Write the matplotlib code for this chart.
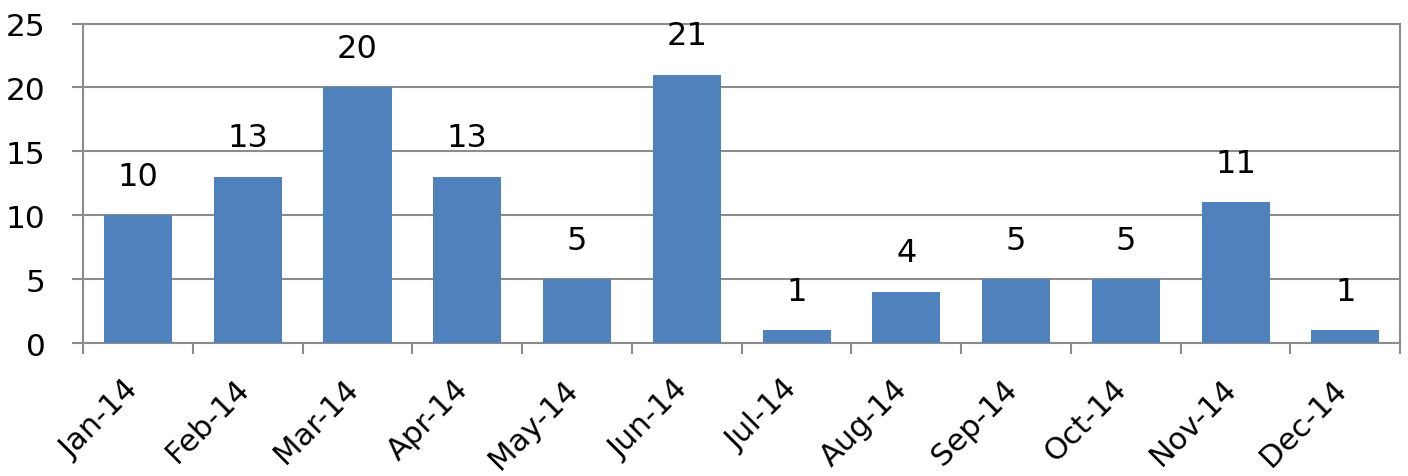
import matplotlib.pyplot as plt
from matplotlib.transforms import ScaledTranslation

months = ["Jan-14", "Feb-14", "Mar-14", "Apr-14", "May-14", "Jun-14",
          "Jul-14", "Aug-14", "Sep-14", "Oct-14", "Nov-14", "Dec-14"]
counts = [10, 13, 20, 13, 5, 21, 1, 4, 5, 5, 11, 1]

grey = "#8c8c8c"
blue = "#4f81bd"

fig = plt.figure(figsize=(14.08, 4.77), dpi=100)
ax = fig.add_axes([0.059, 0.2788, 0.9355, 0.6698])

x = list(range(len(months)))
bars = ax.bar(x, counts, width=0.62, color=blue, zorder=3)

for xi, v in zip(x, counts):
    ax.annotate(str(v), (xi, v), xytext=(0, 17), textcoords="offset points",
                ha="center", va="bottom", fontsize=23, color="black")

ax.set_xlim(-0.5, len(months) - 0.5)
ax.set_ylim(0, 25)
ax.set_yticks(range(0, 26, 5))
ax.tick_params(axis="y", labelsize=22.5, length=8, width=1.5, color=grey, pad=19)
ax.yaxis.grid(True, color=grey, linewidth=1.5, zorder=0)

# x tick marks at the category boundaries, labels at the centres
ax.set_xticks([i - 0.5 for i in range(len(months) + 1)])
ax.set_xticklabels([])
ax.tick_params(axis="x", which="major", length=8, width=1.5, color=grey)
ax.set_xticks(x, minor=True)
ax.set_xticklabels(months, minor=True, rotation=45, ha="right",
                   rotation_mode="anchor", fontsize=22)
ax.tick_params(axis="x", which="minor", length=0, pad=22)
shift = ScaledTranslation(-14 / 100, 0, fig.dpi_scale_trans)
for lbl in ax.get_xticklabels(minor=True):
    lbl.set_transform(lbl.get_transform() + shift)

for s in ax.spines.values():
    s.set_color(grey)
    s.set_linewidth(1.5)

fig.savefig("out.png")
